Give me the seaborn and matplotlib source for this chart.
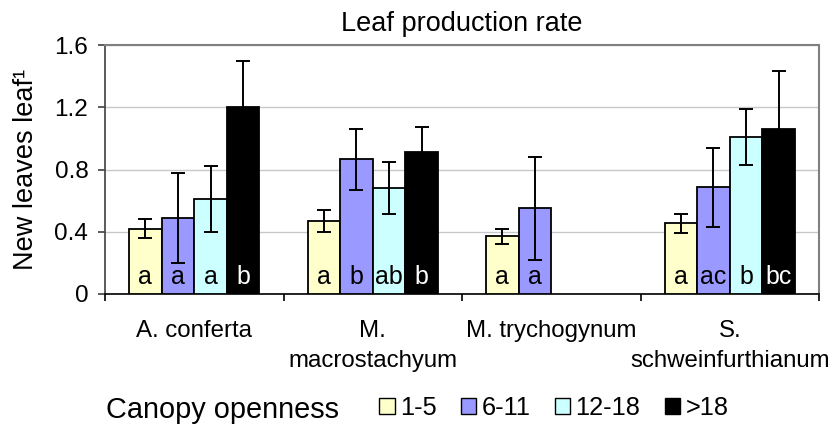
import numpy as np
import pandas as pd
import matplotlib
matplotlib.use("Agg")
import matplotlib.pyplot as plt
import seaborn as sns
from matplotlib.patches import Patch

species = ["A. conferta", "M.\nmacrostachyum", "M. trychogynum", "S.\nschweinfurthianum"]
openness = ["1-5", "6-11", "12-18", ">18"]

v_1_5 = [0.42, 0.47, 0.37, 0.455]
v_6_11 = [0.49, 0.865, 0.55, 0.685]
v_12_18 = [0.61, 0.68, np.nan, 1.01]
v_gt18 = [1.20, 0.915, np.nan, 1.06]

e_1_5 = [0.06, 0.07, 0.05, 0.06]
e_6_11 = [0.29, 0.195, 0.33, 0.255]
e_12_18 = [0.21, 0.165, np.nan, 0.18]
e_gt18 = [0.30, 0.155, np.nan, 0.37]

letters_1_5 = ["a", "a", "a", "a"]
letters_6_11 = ["a", "b", "a", "ac"]
letters_12_18 = ["a", "ab", "", "b"]
letters_gt18 = ["b", "b", "", "bc"]

colors = ["#FFFFCC", "#9999FF", "#CCFFFF", "#000000"]
yticks = [0, 0.4, 0.8, 1.2, 1.6]
ytick_labels = ["0", "0.4", "0.8", "1.2", "1.6"]

values = [v_1_5, v_6_11, v_12_18, v_gt18]
errs = [e_1_5, e_6_11, e_12_18, e_gt18]
letters = [letters_1_5, letters_6_11, letters_12_18, letters_gt18]

rows = []
for h, vals, es, ls in zip(openness, values, errs, letters):
    for s, v, e, l in zip(species, vals, es, ls):
        rows.append({"species": s, "openness": h, "value": v, "err": e, "letter": l})
df = pd.DataFrame(rows)

sns.set_theme(style="white")
plt.rcParams["font.family"] = ["Liberation Sans", "DejaVu Sans"]
plt.rcParams["text.color"] = "black"
plt.rcParams["axes.labelcolor"] = "black"
plt.rcParams["xtick.color"] = "black"
plt.rcParams["ytick.color"] = "black"
plt.rcParams["axes.titlecolor"] = "black"

fig = plt.figure(figsize=(8.33, 4.24), dpi=100)
ax = fig.add_axes([105 / 833, 130 / 424, 714 / 833, 249 / 424])

sns.barplot(data=df, x="species", y="value", hue="openness", order=species,
            hue_order=openness, palette=colors, saturation=1, width=0.73,
            edgecolor="black", linewidth=1.3, errorbar=None, legend=False,
            ax=ax, zorder=3)

for i, (h, cont) in enumerate(zip(openness, ax.containers)):
    sub = df[(df["openness"] == h) & df["value"].notna()]
    sub = sub.set_index("species").reindex([s for s in species if s in set(sub["species"])])
    for bar, (sp, row) in zip(cont, sub.iterrows()):
        xc = bar.get_x() + bar.get_width() / 2
        ax.errorbar(xc, row["value"], yerr=row["err"], fmt="none", ecolor="black",
                    elinewidth=1.4, capsize=5, capthick=1.4, zorder=4)
        ax.text(xc, 0.11, row["letter"], ha="center", va="center", fontsize=18,
                color="white" if colors[i] == "#000000" else "black", zorder=5)

ax.set_ylim(0, 1.6)
ax.set_xlim(-0.5, 3.5)
ax.set_yticks(yticks)
ax.set_yticklabels(ytick_labels)
ax.yaxis.grid(True, color="#C8C8C8", linewidth=1.0, zorder=0)
ax.set_axisbelow(True)
ax.set_xlabel("")
ax.set_ylabel("New leaves leaf¹", fontsize=19.5, color="black")
ax.yaxis.set_label_coords(-0.093, 0.5)
ax.set_title("Leaf production rate", fontsize=19.5, pad=10, color="black")

ax.tick_params(axis="y", which="major", length=5, width=1.2, color="#404040",
               labelcolor="black", labelsize=17.5, pad=7, left=True, direction="out")
ax.tick_params(axis="x", which="major", length=0, labelsize=17.3, pad=19,
               labelcolor="black")
ax.set_xticks([-0.5, 0.5, 1.5, 2.5, 3.5], minor=True)
ax.tick_params(axis="x", which="minor", length=5, width=1.2, color="black",
               bottom=True, direction="out")
for lbl in ax.get_xticklabels():
    lbl.set_linespacing(1.43)

for side in ["top", "right"]:
    ax.spines[side].set_color("#808080")
    ax.spines[side].set_linewidth(1.5)
ax.spines["left"].set_color("#404040")
ax.spines["left"].set_linewidth(1.2)
ax.spines["bottom"].set_color("black")
ax.spines["bottom"].set_linewidth(1.2)

fig.text(106 / 833, 1 - 418 / 424, "Canopy openness", fontsize=20.8, va="baseline",
         ha="left", color="black")
handles = [Patch(facecolor=c, edgecolor="black", linewidth=1.0) for c in colors]
leg = fig.legend(handles, openness, loc="center left", bbox_to_anchor=(379 / 833, 1 - 408 / 424),
                 ncol=4, frameon=False, fontsize=18.3, handlelength=0.62, handleheight=0.62,
                 handletextpad=0.2, columnspacing=0.95, borderpad=0, borderaxespad=0)
for t in leg.get_texts():
    t.set_color("black")

fig.savefig("out.png", dpi=100)
